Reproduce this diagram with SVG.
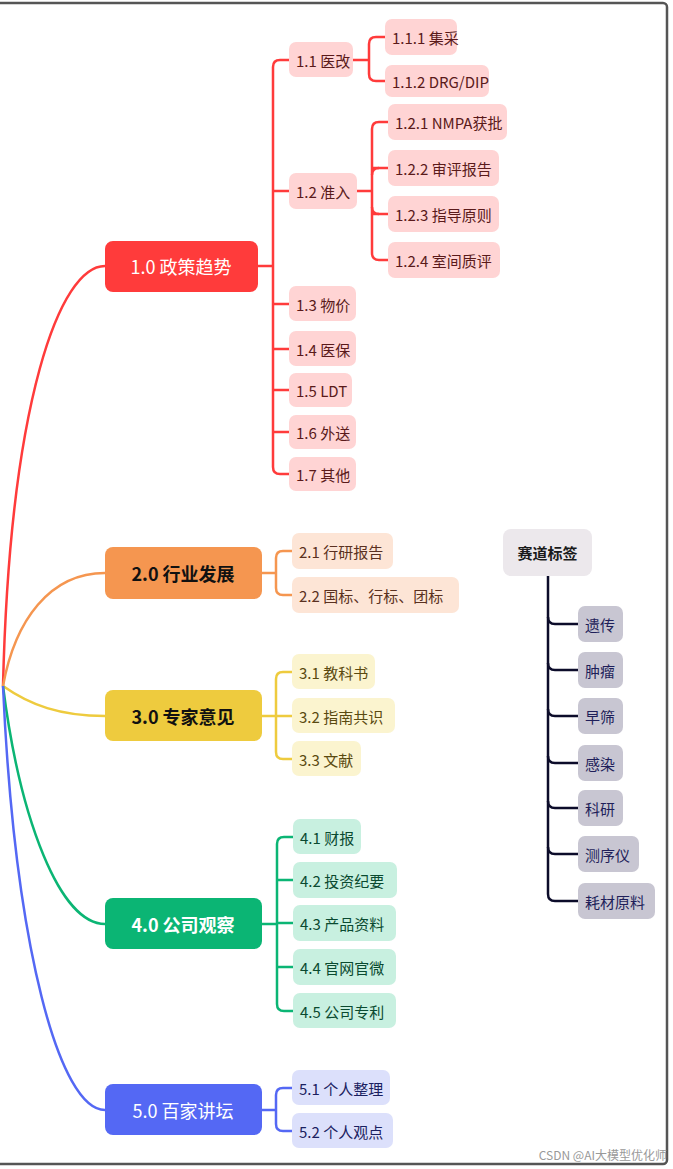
<svg xmlns="http://www.w3.org/2000/svg" width="673" height="1169" viewBox="0 0 673 1169">
<style>
text{font-family:"Noto Sans CJK SC","Noto Sans",sans-serif;dominant-baseline:central}
.m{font-size:18px;text-anchor:middle}
.s{font-size:15px}
.c{fill:none;stroke-width:2.5}
</style>
<rect x="0" y="0" width="673" height="1169" fill="#fff"/>
<rect x="-3" y="3" width="670" height="1161" rx="4" fill="none" stroke="#555" stroke-width="2.5"/>
<g id="connectors">
<path class="c" stroke="#FF3B3B" d="M3 686 C10 400 60 266 105 266"/>
<path class="c" stroke="#F59650" d="M3 686 C15 620 50 573 105 573"/>
<path class="c" stroke="#EECB3E" d="M3 686 C30 705 60 716 105 716"/>
<path class="c" stroke="#0BB574" d="M3 686 C20 820 60 924 105 924"/>
<path class="c" stroke="#5468F4" d="M3 686 C15 950 60 1110 105 1110"/>
<g stroke="#FF3B3B" class="c">
<path d="M258 266H273"/>
<path d="M289 60H280Q273 60 273 67V467Q273 474 280 474H289"/>
<path d="M273 191H289M273 304H289M273 349H289M273 390H289M273 432H289"/>
<path d="M353 60H369M385 37H376Q369 37 369 44V74Q369 81 376 81H385"/>
<path d="M357 191H372M388 122H379Q372 122 372 129V253Q372 260 379 260H388M372 168H388M372 214H388"/>
<path d="M372 175Q372 168 379 168M372 207Q372 214 379 214"/>
</g>
<path class="c" stroke="#F59650" d="M262 573H276M292 551H283Q276 551 276 558V588Q276 595 283 595H292"/>
<path class="c" stroke="#EECB3E" d="M262 716H292M292 672H283Q276 672 276 679V752Q276 759 283 759H292"/>
<path class="c" stroke="#0BB574" d="M262 924H277M293 837H284Q277 837 277 844V1004Q277 1011 284 1011H293M277 880H293M277 923H293M277 967H293"/>
<path class="c" stroke="#5468F4" d="M262 1110H276M292 1088H283Q276 1088 276 1095V1124Q276 1131 283 1131H292"/>
<g class="c" stroke="#0C0C2A">
<path d="M548 576V894Q548 901 555 901H578"/>
<path d="M548 617Q548 624 555 624H578M548 663Q548 670 555 670H578M548 709Q548 716 555 716H578M548 756Q548 763 555 763H578M548 801Q548 808 555 808H578M548 847Q548 854 555 854H578"/>
</g>
</g>
<g id="n1"><rect x="105" y="241" width="153" height="51" rx="8" fill="#FF3B3B"/><text class="m" x="181" y="266" fill="#fff">1.0 政策趋势</text></g>
<g id="n2"><rect x="105" y="547" width="157" height="52" rx="8" fill="#F59650"/><text class="m" x="183" y="573" fill="#111" font-weight="bold">2.0 行业发展</text></g>
<g id="n3"><rect x="105" y="690" width="157" height="51" rx="8" fill="#EECB3E"/><text class="m" x="183" y="716" fill="#111" font-weight="bold">3.0 专家意见</text></g>
<g id="n4"><rect x="105" y="898" width="157" height="51" rx="8" fill="#0BB574"/><text class="m" x="183" y="924" fill="#fff" font-weight="bold">4.0 公司观察</text></g>
<g id="n5"><rect x="105" y="1084" width="157" height="51" rx="8" fill="#5468F4"/><text class="m" x="183" y="1110" fill="#fff">5.0 百家讲坛</text></g>
<g fill="#FFD4D4">
<g id="n11"><rect x="289" y="42" width="64" height="35" rx="7"/><text class="s" x="296" y="60" fill="#5A1A1A">1.1 医改</text></g>
<g id="n111"><rect x="385" y="19" width="72" height="36" rx="7"/><text class="s" x="392" y="37" fill="#5A1A1A">1.1.1 集采</text></g>
<g id="n112"><rect x="385" y="65" width="104" height="32" rx="7"/><text class="s" x="392" y="81" fill="#5A1A1A">1.1.2 DRG/DIP</text></g>
<g id="n12"><rect x="289" y="173" width="68" height="36" rx="7"/><text class="s" x="296" y="191" fill="#5A1A1A">1.2 准入</text></g>
<g id="n121"><rect x="388" y="104" width="119" height="36" rx="7"/><text class="s" x="395" y="122" fill="#5A1A1A">1.2.1 NMPA获批</text></g>
<g id="n122"><rect x="388" y="150" width="111" height="36" rx="7"/><text class="s" x="395" y="168" fill="#5A1A1A">1.2.2 审评报告</text></g>
<g id="n123"><rect x="388" y="196" width="111" height="36" rx="7"/><text class="s" x="395" y="214" fill="#5A1A1A">1.2.3 指导原则</text></g>
<g id="n124"><rect x="388" y="242" width="112" height="36" rx="7"/><text class="s" x="395" y="260" fill="#5A1A1A">1.2.4 室间质评</text></g>
<g id="n13"><rect x="289" y="286" width="67" height="35" rx="7"/><text class="s" x="296" y="304" fill="#5A1A1A">1.3 物价</text></g>
<g id="n14"><rect x="289" y="331" width="67" height="35" rx="7"/><text class="s" x="296" y="349" fill="#5A1A1A">1.4 医保</text></g>
<g id="n15"><rect x="289" y="373" width="63" height="34" rx="7"/><text class="s" x="296" y="390" fill="#5A1A1A">1.5 LDT</text></g>
<g id="n16"><rect x="289" y="415" width="67" height="34" rx="7"/><text class="s" x="296" y="432" fill="#5A1A1A">1.6 外送</text></g>
<g id="n17"><rect x="289" y="457" width="67" height="34" rx="7"/><text class="s" x="296" y="474" fill="#5A1A1A">1.7 其他</text></g>
</g>
<g fill="#FDE5D6">
<g id="n21"><rect x="292" y="533" width="101" height="36" rx="7"/><text class="s" x="299" y="551" fill="#5A3020">2.1 行研报告</text></g>
<g id="n22"><rect x="292" y="577" width="167" height="36" rx="7"/><text class="s" x="299" y="595" fill="#5A3020">2.2 国标、行标、团标</text></g>
</g>
<g fill="#FBF4CF">
<g id="n31"><rect x="292" y="654" width="83" height="35" rx="7"/><text class="s" x="299" y="672" fill="#5A4A10">3.1 教科书</text></g>
<g id="n32"><rect x="292" y="698" width="103" height="35" rx="7"/><text class="s" x="299" y="716" fill="#5A4A10">3.2 指南共识</text></g>
<g id="n33"><rect x="292" y="741" width="69" height="35" rx="7"/><text class="s" x="299" y="759" fill="#5A4A10">3.3 文献</text></g>
</g>
<g fill="#C8F0E0">
<g id="n41"><rect x="293" y="819" width="68" height="35" rx="7"/><text class="s" x="300" y="837" fill="#0A4A30">4.1 财报</text></g>
<g id="n42"><rect x="293" y="862" width="104" height="36" rx="7"/><text class="s" x="300" y="880" fill="#0A4A30">4.2 投资纪要</text></g>
<g id="n43"><rect x="293" y="905" width="103" height="36" rx="7"/><text class="s" x="300" y="923" fill="#0A4A30">4.3 产品资料</text></g>
<g id="n44"><rect x="293" y="949" width="103" height="36" rx="7"/><text class="s" x="300" y="967" fill="#0A4A30">4.4 官网官微</text></g>
<g id="n45"><rect x="293" y="993" width="103" height="35" rx="7"/><text class="s" x="300" y="1011" fill="#0A4A30">4.5 公司专利</text></g>
</g>
<g fill="#DCE0FB">
<g id="n51"><rect x="292" y="1070" width="98" height="35" rx="7"/><text class="s" x="299" y="1088" fill="#1A2060">5.1 个人整理</text></g>
<g id="n52"><rect x="292" y="1113" width="101" height="35" rx="7"/><text class="s" x="299" y="1131" fill="#1A2060">5.2 个人观点</text></g>
</g>
<g id="tag"><rect x="503" y="529" width="89" height="47" rx="8" fill="#ECE8EC"/><text class="s" x="547.5" y="552" text-anchor="middle" fill="#1a1a1a" font-weight="bold">赛道标签</text></g>
<g fill="#C8C6D2">
<g id="t1"><rect x="578" y="606" width="45" height="36" rx="7"/><text class="s" x="585" y="624" fill="#1F1F5A">遗传</text></g>
<g id="t2"><rect x="578" y="652" width="45" height="36" rx="7"/><text class="s" x="585" y="670" fill="#1F1F5A">肿瘤</text></g>
<g id="t3"><rect x="578" y="698" width="45" height="36" rx="7"/><text class="s" x="585" y="716" fill="#1F1F5A">早筛</text></g>
<g id="t4"><rect x="578" y="745" width="45" height="36" rx="7"/><text class="s" x="585" y="763" fill="#1F1F5A">感染</text></g>
<g id="t5"><rect x="578" y="790" width="45" height="36" rx="7"/><text class="s" x="585" y="808" fill="#1F1F5A">科研</text></g>
<g id="t6"><rect x="578" y="836" width="61" height="36" rx="7"/><text class="s" x="585" y="854" fill="#1F1F5A">测序仪</text></g>
<g id="t7"><rect x="578" y="883" width="77" height="36" rx="7"/><text class="s" x="585" y="901" fill="#1F1F5A">耗材原料</text></g>
</g>
<text x="667" y="1154" font-size="12" fill="#999" text-anchor="end">CSDN @AI大模型优化师</text>
</svg>
